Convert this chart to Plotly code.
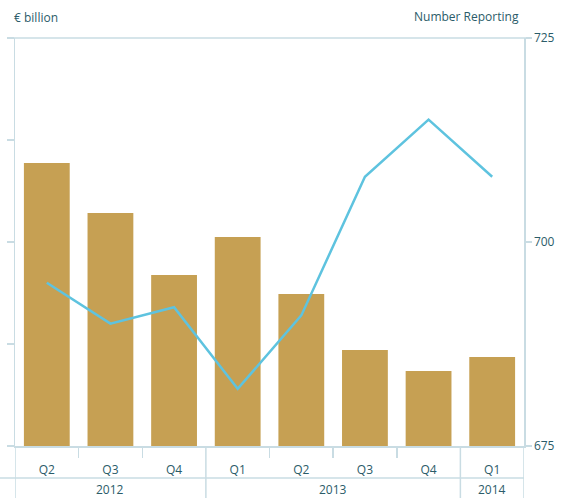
import plotly.graph_objects as go

years = ["2012", "2012", "2012", "2013", "2013", "2013", "2013", "2014"]
quarters = ["Q2", "Q3", "Q4", "Q1", "Q2", "Q3", "Q4", "Q1"]
assets_bn = [277.5, 228.4, 167.6, 204.9, 149.0, 94.1, 73.5, 87.3]
number_reporting = [695, 690, 692, 682, 691, 708, 715, 708]
right_ticks = [675, 700, 725]

TXT = "#2B5C69"
AX = "#C9DCE3"
BAR = "#C6A053"
LINE = "#5EC3DF"
FONT = "Open Sans"

PLOT_H = 408
pos = list(range(len(quarters)))

fig = go.Figure()
fig.add_trace(go.Bar(x=pos, y=assets_bn, width=0.72, marker=dict(color=BAR, line=dict(width=0)),
                     yaxis="y", showlegend=False))
fig.add_trace(go.Scatter(x=pos, y=number_reporting, mode="lines",
                         line=dict(color=LINE, width=2.5), yaxis="y2", showlegend=False))

# boundaries between categories
inner_bounds = []
year_bounds = [-0.5, len(pos) - 0.5]
for i in range(1, len(pos)):
    if years[i] != years[i - 1]:
        year_bounds.append(i - 0.5)
    else:
        inner_bounds.append(i - 0.5)

shapes = [
    dict(type="line", xref="paper", yref="paper", x0=-0.014, x1=1.012, y0=1, y1=1,
         line=dict(color=AX, width=1.5)),
    dict(type="line", xref="paper", yref="paper", x0=-0.03, x1=1, y0=-32 / PLOT_H, y1=-32 / PLOT_H,
         line=dict(color=AX, width=1.5)),
]
for b in year_bounds:
    shapes.append(dict(type="line", xref="x", yref="paper", x0=b, x1=b, y0=0, y1=-60 / PLOT_H,
                       line=dict(color=AX, width=1.5)))

annotations = [
    dict(text="€ billion", xref="paper", yref="paper", x=-0.005, y=1.0, yshift=21,
         xanchor="left", yanchor="middle", showarrow=False,
         font=dict(family=FONT, size=12, color=TXT)),
    dict(text="Number Reporting", xref="paper", yref="paper", x=0.995, y=1.0, yshift=22,
         xanchor="right", yanchor="middle", showarrow=False,
         font=dict(family=FONT, size=12, color=TXT)),
]
groups = {}
for i, y in enumerate(years):
    groups.setdefault(y, []).append(i)
for y, idx in groups.items():
    annotations.append(dict(text=y, xref="x", yref="paper", x=sum(idx) / len(idx),
                            y=-43 / PLOT_H, xanchor="center", yanchor="middle", showarrow=False,
                            font=dict(family=FONT, size=12, color=TXT)))

fig.update_layout(
    width=573, height=498,
    margin=dict(l=15, r=49, t=38, b=52),
    paper_bgcolor="white", plot_bgcolor="white",
    font=dict(family=FONT, size=12, color=TXT),
    hovermode=False,
    xaxis=dict(range=[-0.5, len(pos) - 0.5], tickvals=pos, ticktext=quarters, ticks="",
               showline=True, linecolor=AX, linewidth=1.5, showgrid=False, zeroline=False,
               automargin=False, ticklabelstandoff=12,
               minor=dict(tickvals=inner_bounds, ticks="outside", ticklen=10, tickcolor=AX,
                          tickwidth=1.5, showgrid=False),
               tickfont=dict(family=FONT, size=12, color=TXT)),
    yaxis=dict(range=[0, 400], dtick=100, showticklabels=False, showline=True, linecolor=AX,
               linewidth=1.5, ticks="outside", ticklen=7, tickcolor=AX, tickwidth=1.5,
               showgrid=False, zeroline=False, automargin=False),
    yaxis2=dict(range=[675, 725], tickvals=right_ticks, overlaying="y", side="right",
                showline=True, linecolor=AX, linewidth=1.5, ticks="outside", ticklen=6,
                tickcolor=AX, tickwidth=1.5, showgrid=False, zeroline=False, automargin=False,
                tickfont=dict(family=FONT, size=12, color=TXT)),
    annotations=annotations,
    shapes=shapes,
)

fig.write_html("out.html", config={"displayModeBar": False, "staticPlot": True},
               post_script="document.body.style.margin='0';")
